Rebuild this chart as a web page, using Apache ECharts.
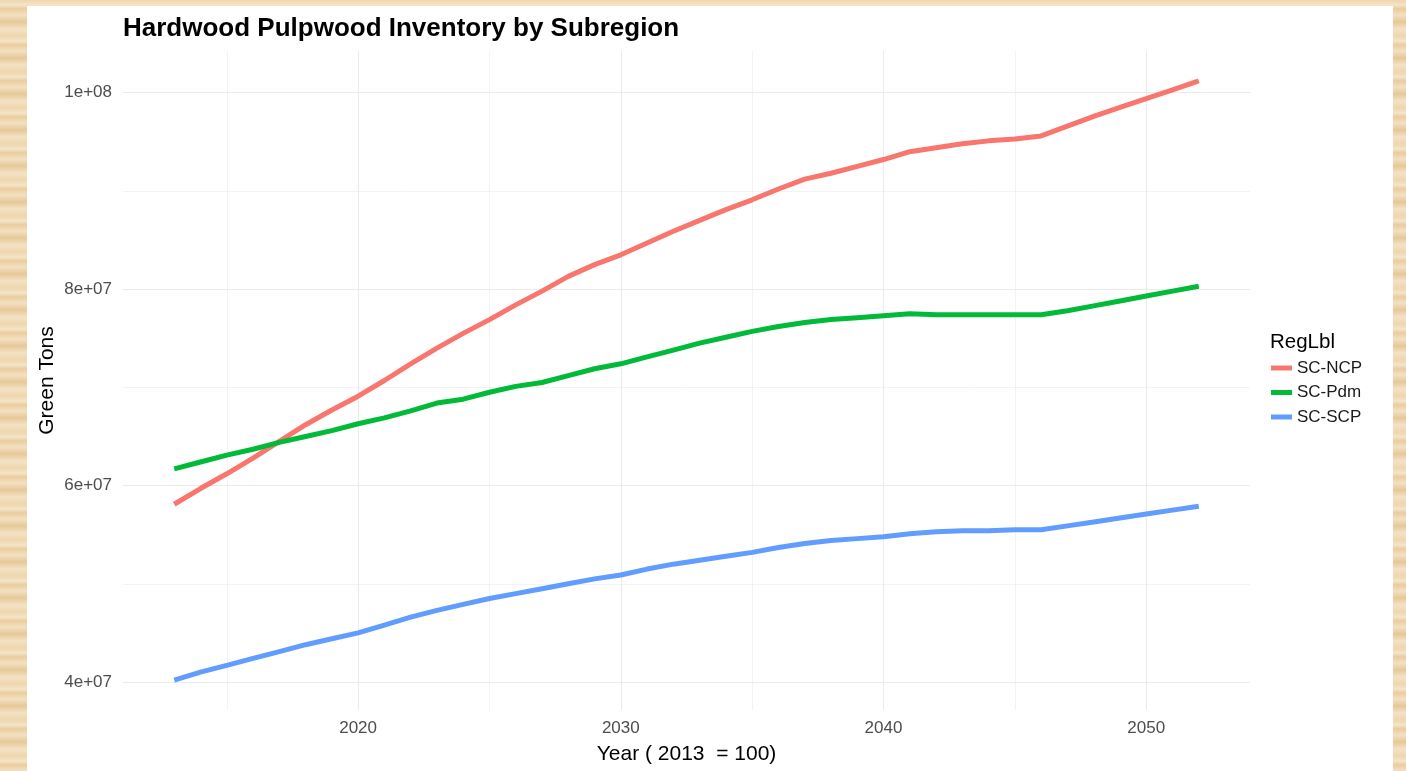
<!DOCTYPE html>
<html>
<head>
<meta charset="utf-8">
<script src="https://cdn.jsdelivr.net/npm/echarts@6/dist/echarts.min.js"></script>
<style>
html,body{margin:0;padding:0;width:1406px;height:771px;overflow:hidden;}
body{
  background:
    repeating-linear-gradient(180deg,
      rgba(255,255,255,0.0) 0px, rgba(255,255,255,0.35) 5px, rgba(210,160,90,0.18) 9px,
      rgba(255,255,255,0.25) 15px, rgba(200,150,80,0.22) 22px, rgba(255,255,255,0.3) 29px, rgba(255,255,255,0.0) 36px),
    #efd6ad;
}
#panel{position:absolute;left:27px;top:6px;width:1366px;height:765px;background:#ffffff;}
</style>
</head>
<body>
<div id="panel"></div>
<script>
// ---- data (values in millions of green tons) ----
const years = [2013,2014,2015,2016,2017,2018,2019,2020,2021,2022,2023,2024,2025,2026,2027,2028,2029,2030,2031,2032,
               2033,2034,2035,2036,2037,2038,2039,2040,2041,2042,2043,2044,2045,2046,2047,2048,2049,2050,2051,2052];
const seriesNames = ['SC-NCP','SC-Pdm','SC-SCP'];
const ncp = [58.1,59.7,61.2,62.8,64.5,66.2,67.7,69.1,70.7,72.4,74.0,75.5,76.9,78.4,79.8,81.3,82.5,83.5,84.7,85.9,
             87.0,88.1,89.1,90.2,91.2,91.8,92.5,93.2,94.0,94.4,94.8,95.1,95.3,95.6,96.6,97.6,98.5,99.4,100.3,101.2];
const pdm = [61.7,62.4,63.1,63.7,64.4,65.0,65.6,66.3,66.9,67.6,68.4,68.8,69.5,70.1,70.5,71.2,71.9,72.4,73.1,73.8,
             74.5,75.1,75.7,76.2,76.6,76.9,77.1,77.3,77.5,77.4,77.4,77.4,77.4,77.4,77.8,78.3,78.8,79.3,79.8,80.3];
const scp = [40.2,41.0,41.7,42.4,43.1,43.8,44.4,45.0,45.8,46.6,47.3,47.9,48.5,49.0,49.5,50.0,50.5,50.9,51.5,52.0,
             52.4,52.8,53.2,53.7,54.1,54.4,54.6,54.8,55.1,55.3,55.4,55.4,55.5,55.5,55.9,56.3,56.7,57.1,57.5,57.9];
const xMajorTicks = [2020,2030,2040,2050];
const xMinorTicks = [2015,2025,2035,2045];
const yMajorTicks = [40,60,80,100];
const yMajorLabels = ['4e+07','6e+07','8e+07','1e+08'];
const yMinorTicks = [50,70,90];
const colors = ['#F8766D','#00BA38','#619CFF'];

// ---- build ----
const allVals = ncp.concat(pdm, scp);
const vMin = Math.min.apply(null, allVals), vMax = Math.max.apply(null, allVals);
const xr = years[years.length-1] - years[0];
const xMin = years[0] - 0.05*xr, xMax = years[years.length-1] + 0.05*xr;
const yr = vMax - vMin;
const yMin = vMin - 0.05*yr, yMax = vMax + 0.05*yr;

const FONT = 'Liberation Sans, Arial, sans-serif';
const gridColor = '#EBEBEB';

function pairs(arr){ return years.map((y,i)=>[y, arr[i]]); }

const chart = echarts.init(document.getElementById('panel'), null, {renderer:'canvas'});
chart.setOption({
  animation:false,
  backgroundColor:'#ffffff',
  color: colors,
  title:[
    {text:'Hardwood Pulpwood Inventory by Subregion', left:96, top:10, padding:0,
     textStyle:{fontFamily:FONT, fontSize:26, fontWeight:'bold', color:'#000000'}},
    {text:'RegLbl', left:1243, top:326, padding:0,
     textStyle:{fontFamily:FONT, fontSize:20.5, fontWeight:'normal', color:'#000000'}}
  ],
  legend:{
    orient:'vertical', left:1244, top:352, padding:0,
    icon:'rect', itemWidth:21, itemHeight:5, itemGap:4.5,
    textStyle:{fontFamily:FONT, fontSize:17, color:'#1A1A1A', lineHeight:20},
    data: seriesNames
  },
  grid:{left:96, right:143, top:45, bottom:61, containLabel:false, outerBoundsMode:'none'},
  xAxis:[
    {type:'value', min:xMin, max:xMax,
     axisLine:{show:false}, axisTick:{show:false, customValues:xMajorTicks},
     axisLabel:{customValues:xMajorTicks, color:'#4D4D4D', fontSize:17, fontFamily:FONT, margin:10,
                formatter:(v)=>String(Math.round(v))},
     splitLine:{show:true, lineStyle:{color:gridColor, width:1.1}},
     name:'Year ( 2013  = 100)', nameLocation:'middle', nameGap:34, nameMoveOverlap:false,
     nameTextStyle:{fontFamily:FONT, fontSize:21, color:'#000000'}},
    {type:'value', min:xMin, max:xMax, position:'bottom',
     axisLine:{show:false}, axisTick:{show:false, customValues:xMinorTicks},
     axisLabel:{show:false, customValues:xMinorTicks},
     splitLine:{show:true, lineStyle:{color:gridColor, width:0.6}}}
  ],
  yAxis:[
    {type:'value', min:yMin, max:yMax,
     axisLine:{show:false}, axisTick:{show:false, customValues:yMajorTicks},
     axisLabel:{customValues:yMajorTicks, color:'#4D4D4D', fontSize:17, fontFamily:FONT, margin:11,
                formatter:(v)=>{const i=yMajorTicks.indexOf(Math.round(v)); return i>=0?yMajorLabels[i]:'';}},
     splitLine:{show:true, lineStyle:{color:gridColor, width:1.1}},
     name:'Green Tons', nameLocation:'middle', nameGap:65, nameMoveOverlap:false,
     nameTextStyle:{fontFamily:FONT, fontSize:21, color:'#000000'}},
    {type:'value', min:yMin, max:yMax, position:'left',
     axisLine:{show:false}, axisTick:{show:false, customValues:yMinorTicks},
     axisLabel:{show:false, customValues:yMinorTicks},
     splitLine:{show:true, lineStyle:{color:gridColor, width:0.6}}}
  ],
  series:[
    {name:seriesNames[0], type:'line', data:pairs(ncp), showSymbol:false, symbol:'none',
     lineStyle:{width:5, color:colors[0]}, itemStyle:{color:colors[0]}, z:3},
    {name:seriesNames[1], type:'line', data:pairs(pdm), showSymbol:false, symbol:'none',
     lineStyle:{width:5, color:colors[1]}, itemStyle:{color:colors[1]}, z:3},
    {name:seriesNames[2], type:'line', data:pairs(scp), showSymbol:false, symbol:'none',
     lineStyle:{width:5, color:colors[2]}, itemStyle:{color:colors[2]}, z:3}
  ]
});
</script>
</body>
</html>
